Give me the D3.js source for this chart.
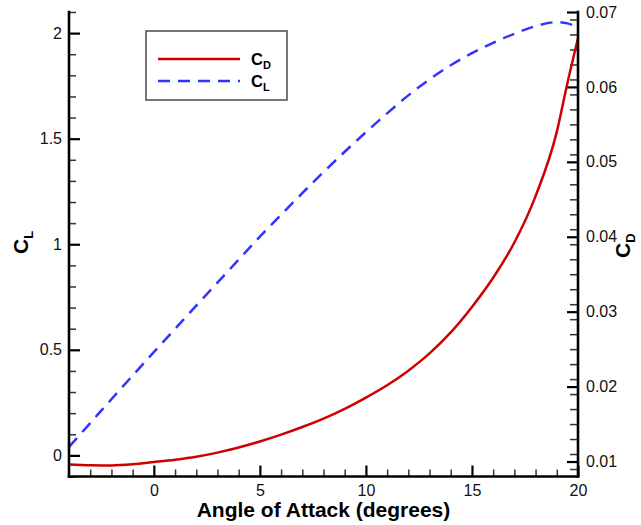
<!DOCTYPE html>
<html>
<head>
<meta charset="utf-8">
<script src="https://cdn.jsdelivr.net/npm/d3@7"></script>
<style>
  html, body { margin: 0; padding: 0; background: #fff; }
  svg { display: block; font-family: "Liberation Sans", Arial, sans-serif; }
</style>
</head>
<body>
<svg id="chart" width="641" height="525"></svg>
<script>
// Angle of attack (degrees)
const alpha = [-4, -3, -2, -1, 0, 1, 2, 3, 4, 5, 6, 7, 8, 9, 10, 11, 12, 13, 14, 15, 16, 17, 18, 19, 19.5, 20];
// Lift coefficient
const cl = [0.040, 0.153, 0.266, 0.378, 0.489, 0.599, 0.709, 0.818, 0.927, 1.036, 1.140, 1.242, 1.342, 1.438, 1.531, 1.620, 1.705, 1.781, 1.848, 1.905, 1.954, 1.997, 2.033, 2.052, 2.046, 2.026];
// Drag coefficient
const cd = [0.00960, 0.00950, 0.00948, 0.00962, 0.00992, 0.01024, 0.01064, 0.01119, 0.01187, 0.01267, 0.01359, 0.01461, 0.01573, 0.01703, 0.01853, 0.02018, 0.02213, 0.02443, 0.02723, 0.03063, 0.03453, 0.03923, 0.04543, 0.05400, 0.06050, 0.06650];

const xTicks = [0, 5, 10, 15, 20];
const clTicks = [0, 0.5, 1, 1.5, 2];
const cdTicks = [0.01, 0.02, 0.03, 0.04, 0.05, 0.06, 0.07];

const svg = d3.select("#chart");
const plotLeft = 69, plotRight = 578, plotTop = 12, plotBottom = 476.5;

const x = d3.scaleLinear().domain([-4, 20]).range([plotLeft, plotRight]);
const yL = d3.scaleLinear().domain([-0.1, 2.1]).range([plotBottom, plotTop]);
const yR = d3.scaleLinear().domain([0.008, 0.07]).range([plotBottom, plotTop]);

const xMinor = d3.range(-3, 20, 1).filter(v => v % 5 !== 0);
const clMinor = d3.range(-1, 22, 1).map(v => v / 10).filter(v => Math.round(v * 10) % 5 !== 0);
const cdMinor = d3.range(9, 71, 2).map(v => v / 1000).filter(v => Math.round(v * 1000) % 10 !== 0);

function styleAxis(g, major) {
  g.select(".domain").remove();
  g.selectAll(".tick line").attr("stroke", major ? "#000" : "#333").attr("stroke-width", major ? 2.2 : 1.5);
  g.selectAll(".tick text").attr("fill", "#111").style("font-size", "16px");
}

// bottom axis
svg.append("g").attr("transform", `translate(0,${plotBottom})`)
  .call(d3.axisBottom(x).tickValues(xMinor).tickSize(-7).tickFormat(""))
  .call(g => styleAxis(g, false));
svg.append("g").attr("transform", `translate(0,${plotBottom})`)
  .call(d3.axisBottom(x).tickValues(xTicks).tickSize(-11).tickPadding(8).tickFormat(d3.format("d")))
  .call(g => styleAxis(g, true));

// left axis (C_L)
svg.append("g").attr("transform", `translate(${plotLeft},0)`)
  .call(d3.axisLeft(yL).tickValues(clMinor).tickSize(-7).tickFormat(""))
  .call(g => styleAxis(g, false));
svg.append("g").attr("transform", `translate(${plotLeft},0)`)
  .call(d3.axisLeft(yL).tickValues(clTicks).tickSize(-11).tickPadding(7).tickFormat(d => d3.format("")(d)))
  .call(g => styleAxis(g, true));

// right axis (C_D)
svg.append("g").attr("transform", `translate(${plotRight},0)`)
  .call(d3.axisRight(yR).tickValues(cdMinor).tickSize(-8).tickFormat(""))
  .call(g => styleAxis(g, false));
svg.append("g").attr("transform", `translate(${plotRight},0)`)
  .call(d3.axisRight(yR).tickValues(cdTicks).tickSize(-11).tickPadding(8).tickFormat(d3.format(".2f")))
  .call(g => styleAxis(g, true));

// clip for the curves
svg.append("clipPath").attr("id", "plot-clip")
  .append("rect").attr("x", plotLeft).attr("y", plotTop - 2).attr("width", plotRight - plotLeft).attr("height", plotBottom - plotTop + 2);

const pts = alpha.map((a, i) => ({ a, cl: cl[i], cd: cd[i] }));

svg.append("path").datum(pts)
  .attr("clip-path", "url(#plot-clip)")
  .attr("fill", "none").attr("stroke", "#d00000").attr("stroke-width", 2.5)
  .attr("d", d3.line().x(d => x(d.a)).y(d => yR(d.cd)).curve(d3.curveMonotoneX));

svg.append("path").datum(pts)
  .attr("clip-path", "url(#plot-clip)")
  .attr("fill", "none").attr("stroke", "#3333ff").attr("stroke-width", 2.5)
  .attr("stroke-dasharray", "12,8")
  .attr("d", d3.line().x(d => x(d.a)).y(d => yL(d.cl)).curve(d3.curveMonotoneX));

// axis lines
const axisLines = svg.append("g").attr("stroke", "#000").attr("stroke-width", 2.6).attr("stroke-linecap", "square");
axisLines.append("line").attr("x1", plotLeft).attr("x2", plotLeft).attr("y1", plotTop).attr("y2", plotBottom);
axisLines.append("line").attr("x1", plotRight).attr("x2", plotRight).attr("y1", plotTop).attr("y2", plotBottom);
axisLines.append("line").attr("x1", plotLeft).attr("x2", plotRight).attr("y1", plotBottom).attr("y2", plotBottom);

// axis titles
svg.append("text")
  .attr("x", (plotLeft + plotRight) / 2).attr("y", 517)
  .attr("text-anchor", "middle")
  .style("font-size", "21px").style("font-weight", "bold")
  .text("Angle of Attack (degrees)");

function coefLabel(g, sub, size, subSize, shift) {
  g.append("tspan").style("font-size", size + "px").text("C");
  g.append("tspan").style("font-size", subSize + "px").attr("dy", shift).text(sub);
}

const clTitle = svg.append("text")
  .attr("transform", "translate(28,254) rotate(-90)")
  .style("font-weight", "bold");
coefLabel(clTitle, "L", 21, 13, 5);

const cdTitle = svg.append("text")
  .attr("transform", "translate(630,258) rotate(-90)")
  .style("font-weight", "bold");
coefLabel(cdTitle, "D", 21, 13, 5);

// legend
const legend = svg.append("g");
legend.append("rect").attr("x", 146).attr("y", 31).attr("width", 141).attr("height", 69)
  .attr("fill", "#fff").attr("stroke", "#555").attr("stroke-width", 1.6);
legend.append("line").attr("x1", 158).attr("x2", 240).attr("y1", 59).attr("y2", 59)
  .attr("stroke", "#d00000").attr("stroke-width", 2.5);
legend.append("line").attr("x1", 158).attr("x2", 240).attr("y1", 81).attr("y2", 81)
  .attr("stroke", "#3333ff").attr("stroke-width", 2.5).attr("stroke-dasharray", "12,8");
const lgD = legend.append("text").attr("x", 251).attr("y", 65).style("font-weight", "bold");
coefLabel(lgD, "D", 16.5, 11, 4);
const lgL = legend.append("text").attr("x", 251).attr("y", 87).style("font-weight", "bold");
coefLabel(lgL, "L", 16.5, 11, 4);
</script>
</body>
</html>
